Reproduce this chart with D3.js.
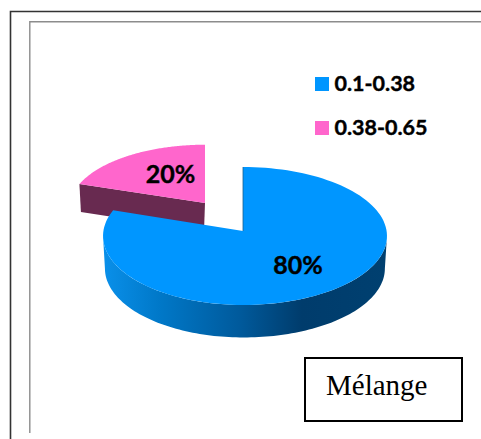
<!DOCTYPE html>
<html>
<head>
<meta charset="utf-8">
<script src="https://cdn.jsdelivr.net/npm/d3@7/dist/d3.min.js"></script>
<style>
html, body { margin: 0; padding: 0; background: #fff; }
svg { display: block; }
</style>
</head>
<body>
<svg id="chart" width="481" height="439"></svg>
<script>
// Share of samples per range
const categories = ["0.1-0.38", "0.38-0.65"];
const shares = [80, 20];
const sliceColors = ["#0096ff", "#ff66cc"];
const chartTitle = "Mélange";

const svg = d3.select("#chart");

// Page frames
svg.append("path").attr("d", "M10.5 439V11.5H481").attr("fill", "none").attr("stroke", "#333").attr("stroke-width", 1.6);
svg.append("path").attr("d", "M29.8 433V21.7H481").attr("fill", "none").attr("stroke", "#8c8c8c").attr("stroke-width", 1.4);

// Slice angles, clockwise from twelve o'clock
const pie = d3.pie().value(d => d).sort(null);
const arcs = pie(shares);

// Perspective projection of the tilted disc
const tilt = 0.0725;
function projector(cx, cy, rLeft, rRight, ry) {
  return a => {
    const u = Math.sin(a), v = -Math.cos(a), w = 1 - tilt * v;
    return [cx + (u < 0 ? rLeft : rRight) * u / w, cy + ry * v / w];
  };
}
const line = d3.line();
const sweep = (from, to) => d3.range(0, 121).map(i => from + (to - from) * i / 120);
const rad = d => d * Math.PI / 180;

const bluePt = projector(243, 231, 139.6, 143.6, 68.6);
const blueFloor = projector(243.5, 263.5, 138.2, 141, 68.6);
const pinkPt = projector(205, 203, 135, 135, 62.5);
const depthPink = 28;

const defs = svg.append("defs");
const wallGradient = defs.append("linearGradient").attr("id", "wall")
  .attr("gradientUnits", "userSpaceOnUse").attr("x1", 103).attr("x2", 387).attr("y1", 0).attr("y2", 0);
[[0, "#0a90ea"], [0.2, "#0078c8"], [0.48, "#005a9c"], [0.7, "#003c6c"], [1, "#004070"]]
  .forEach(([o, c]) => wallGradient.append("stop").attr("offset", o).attr("stop-color", c));

// Pink slice: cut-face wall, then top
const pinkEdge = pinkPt(arcs[1].startAngle);
const pinkApex = [205, 203];
svg.append("path")
  .attr("d", line([pinkEdge, pinkApex, [pinkApex[0] - 1, pinkApex[1] + depthPink], [pinkEdge[0] + 1.5, pinkEdge[1] + depthPink]]) + "Z")
  .attr("fill", "#682a50");
svg.append("path")
  .attr("d", line([pinkApex, ...sweep(arcs[1].startAngle, arcs[1].endAngle).map(pinkPt)]) + "Z")
  .attr("fill", sliceColors[1]);

// Blue slice: curved rim, then top
const rimTop = sweep(rad(94.2), rad(265.8)).map(bluePt);
const rimBottom = sweep(rad(265.8), rad(94.2)).map(blueFloor);
svg.append("path").attr("d", line([...rimTop, ...rimBottom]) + "Z").attr("fill", "url(#wall)");
svg.append("path")
  .attr("d", line([[243, 231], ...sweep(arcs[0].startAngle, arcs[0].endAngle).map(bluePt)]) + "Z")
  .attr("fill", sliceColors[0]);
svg.append("path").attr("d", line([[243, 231], bluePt(0)])).attr("stroke", "#1d5f8e").attr("stroke-width", 0.8).attr("fill", "none");

// Percentage labels
const pct = d3.format(".0%");
const total = d3.sum(shares);
const labelPos = [[298, 274], [170.5, 183]];
svg.selectAll("text.pct").data(shares).join("text").attr("class", "pct")
  .attr("x", (d, i) => labelPos[i][0]).attr("y", (d, i) => labelPos[i][1])
  .attr("text-anchor", "middle").attr("font-family", "Lato").attr("font-weight", 700).attr("font-size", 25)
  .attr("stroke", "#000").attr("stroke-width", 0.4)
  .attr("fill", "#000").text(d => pct(d / total));

// Legend
const legendY = d3.scalePoint().domain(categories).range([84, 128]);
const entry = svg.selectAll("g.entry").data(categories).join("g").attr("class", "entry")
  .attr("transform", d => `translate(315,${legendY(d)})`);
entry.append("rect").attr("x", 0).attr("y", -7).attr("width", 14).attr("height", 14).attr("fill", (d, i) => sliceColors[i]);
entry.append("text").attr("x", 19.5).attr("y", 7)
  .attr("font-family", "Lato").attr("font-weight", 700).attr("font-size", 21.5)
  .attr("stroke", "#000").attr("stroke-width", 0.4)
  .attr("fill", "#000").text(d => d);

// Title box
svg.append("rect").attr("x", 305).attr("y", 358).attr("width", 157).attr("height", 63)
  .attr("fill", "#fff").attr("stroke", "#000").attr("stroke-width", 2);
svg.append("text").attr("x", 326).attr("y", 395).attr("font-family", "Liberation Serif")
  .attr("font-size", 29).attr("fill", "#000").text(chartTitle);
</script>
</body>
</html>
